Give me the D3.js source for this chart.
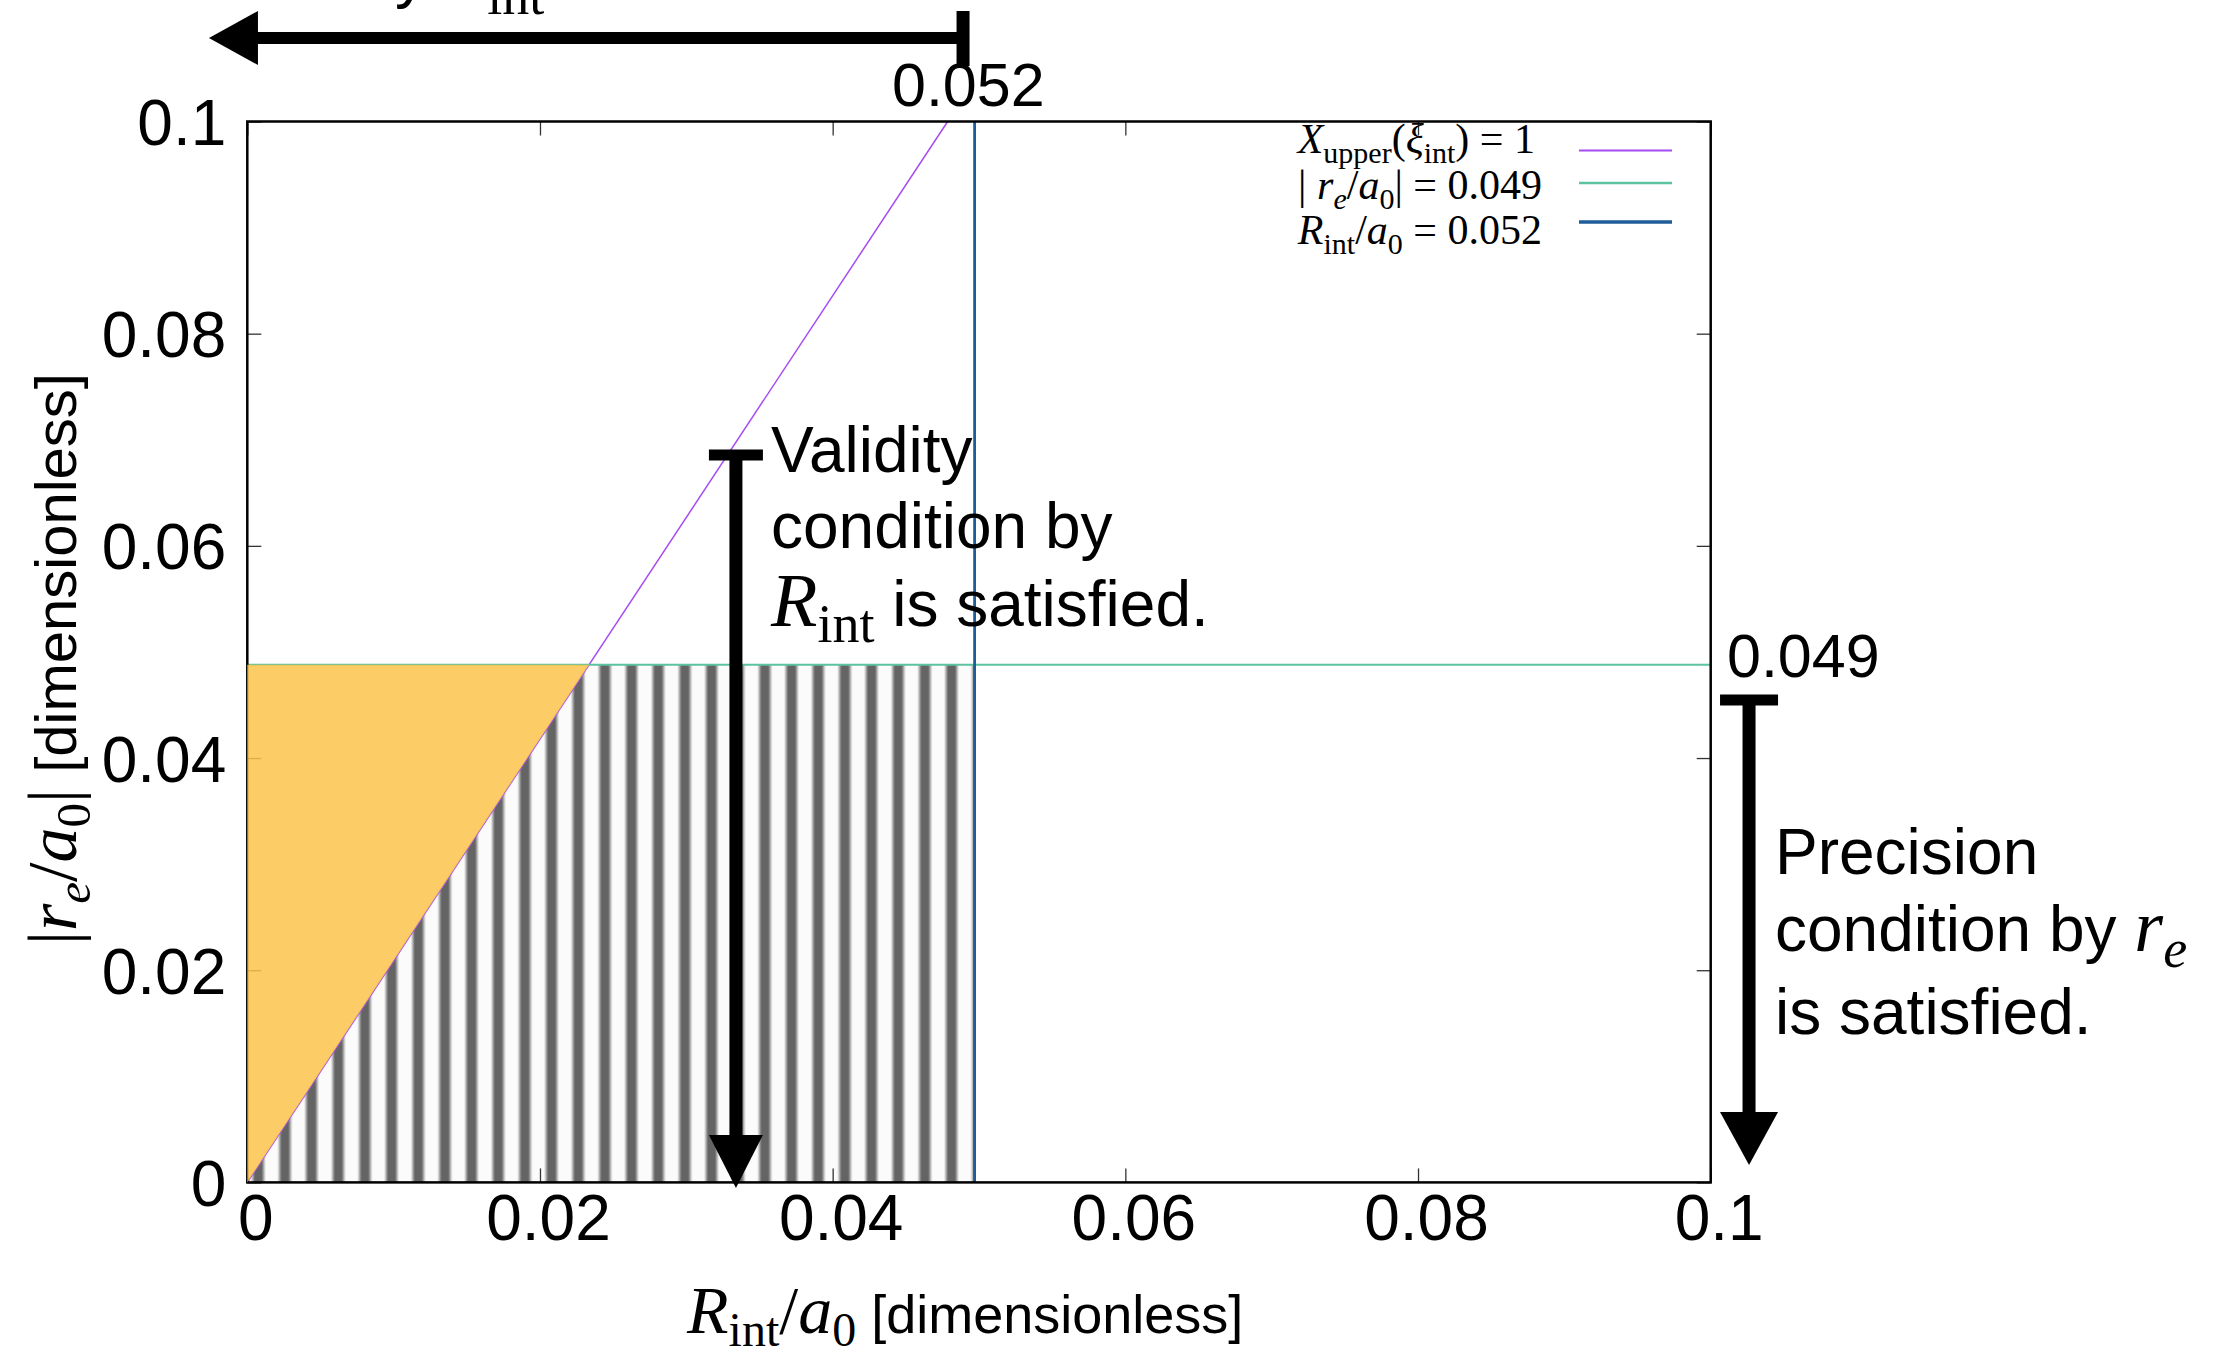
<!DOCTYPE html>
<html>
<head>
<meta charset="utf-8">
<script src="https://cdn.jsdelivr.net/npm/d3@7"></script>
<style>
  html, body { margin: 0; padding: 0; background: #fff; }
  text { white-space: pre; }
</style>
</head>
<body>
<div class="chart"></div>
<script>
var svgWidth = 2215;
var svgHeight = 1351;

var margin = { top: 121.5, right: 504.3, bottom: 168.6, left: 247.3 };
var width = svgWidth - margin.left - margin.right;
var height = svgHeight - margin.top - margin.bottom;

// ---- data ----
var xTicks = [0, 0.02, 0.04, 0.06, 0.08, 0.1];
var xTickLabels = ["0", "0.02", "0.04", "0.06", "0.08", "0.1"];
var yTicks = [0, 0.02, 0.04, 0.06, 0.08, 0.1];
var yTickLabels = ["0", "0.02", "0.04", "0.06", "0.08", "0.1"];

// X_upper(xi_int) = 1 boundary (straight line through the origin)
var upperX = [0, 0.04786];
var upperY = [0, 0.1];
// |r_e/a0| = 0.049 level and R_int/a0 = 0.052 level, as drawn
var reLevel = 0.0488;
var rintLevel = 0.0497;
// hatched fill: vertical stripes
var stripePeriod = 0.001822;
var stripeFirst = 0.00075;

var lineColors = ["#a64bf4", "#5cc3a0", "#1f5c99"];
var lineWidths = [1.5, 2, 2.8];

var sans = "'Liberation Sans', Arial, Helvetica, sans-serif";
var serif = "'Liberation Serif', 'Times New Roman', serif";

var svg = d3.select(".chart")
  .append("svg")
  .attr("width", svgWidth)
  .attr("height", svgHeight)
  .style("display", "block");

svg.append("rect").attr("width", svgWidth).attr("height", svgHeight).attr("fill", "#fff");

var xScale = d3.scaleLinear().domain([0, 0.1]).range([margin.left, margin.left + width]);
var yScale = d3.scaleLinear().domain([0, 0.1]).range([margin.top + height, margin.top]);

// stripe pattern
var periodPx = xScale(stripePeriod) - xScale(0);
var defs = svg.append("defs");
var grad = defs.append("linearGradient").attr("id", "stripeGrad")
  .attr("x1", 0).attr("x2", 1).attr("y1", 0).attr("y2", 0);
[[0, "#fbfbfb"], [0.22, "#fbfbfb"], [0.37, "#646464"], [0.63, "#646464"], [0.78, "#fbfbfb"], [1, "#fbfbfb"]]
  .forEach(function(s) { grad.append("stop").attr("offset", s[0]).attr("stop-color", s[1]); });
defs.append("pattern").attr("id", "stripes")
  .attr("patternUnits", "userSpaceOnUse")
  .attr("x", xScale(stripeFirst) - periodPx / 2).attr("y", 0)
  .attr("width", periodPx).attr("height", 40)
  .append("rect").attr("width", periodPx).attr("height", 40).attr("fill", "url(#stripeGrad)");

var slope = (upperY[1] - upperY[0]) / (upperX[1] - upperX[0]);
var xCross = reLevel / slope;

var area = d3.line().x(d => xScale(d[0])).y(d => yScale(d[1]));

// hatched region: below boundary & below r_e level, up to R_int
svg.append("path")
  .attr("d", area([[0, 0], [xCross, reLevel], [rintLevel, reLevel], [rintLevel, 0]]) + "Z")
  .attr("fill", "url(#stripes)");

// axes (inward ticks on all four sides)
function styleAxis(g) {
  g.select(".domain").remove();
  g.selectAll(".tick line").attr("stroke", "#333").attr("stroke-width", 1.3);
  g.attr("font-family", sans).attr("font-size", 64);
  g.selectAll(".tick text").attr("fill", "#000");
}

svg.append("g")
  .attr("transform", `translate(0, ${yScale(0)})`)
  .call(d3.axisBottom(xScale).tickValues(xTicks).tickSize(-14).tickPadding(12)
    .tickFormat((d, i) => xTickLabels[i]))
  .call(styleAxis)
  .selectAll(".tick text").attr("dx", 8);

svg.append("g")
  .attr("transform", `translate(${xScale(0)}, 0)`)
  .call(d3.axisLeft(yScale).tickValues(yTicks).tickSize(-14).tickPadding(21)
    .tickFormat((d, i) => yTickLabels[i]))
  .call(styleAxis)
  .selectAll(".tick text").attr("dy", "0.36em");

svg.append("g")
  .attr("transform", `translate(0, ${yScale(0.1)})`)
  .call(d3.axisTop(xScale).tickValues(xTicks).tickSize(-14).tickFormat(""))
  .call(styleAxis);

svg.append("g")
  .attr("transform", `translate(${xScale(0.1)}, 0)`)
  .call(d3.axisRight(yScale).tickValues(yTicks).tickSize(-14).tickFormat(""))
  .call(styleAxis);

// curves
var lines = [
  d3.zip(upperX, upperY),
  [[0, reLevel], [0.1, reLevel]],
  [[rintLevel, 0], [rintLevel, 0.1]]
];
lines.forEach(function(pts, i) {
  svg.append("path")
    .attr("d", area(pts))
    .attr("fill", "none")
    .attr("stroke", lineColors[i])
    .attr("stroke-width", lineWidths[i]);
});

// frame
svg.append("rect")
  .attr("x", xScale(0)).attr("y", yScale(0.1))
  .attr("width", width).attr("height", height)
  .attr("fill", "none").attr("stroke", "#000").attr("stroke-width", 2.5);

// orange region: above boundary & below r_e level
svg.append("path")
  .attr("d", area([[0, 0], [0, reLevel], [xCross, reLevel]]) + "Z")
  .attr("fill", "rgb(251,195,75)")
  .attr("fill-opacity", 0.85);

// rich text helper
function rich(sel, parts) {
  parts.forEach(function(p) {
    sel.append("tspan")
      .attr("font-family", p.serif ? serif : sans)
      .attr("font-style", p.it ? "italic" : "normal")
      .attr("font-size", p.size)
      .attr("dy", p.dy || 0)
      .text(p.t);
  });
  return sel;
}

// legend
var L = 42, Ls = 30, Ld = 10;
var legendRows = [
  [{t: "X", serif: 1, it: 1, size: L}, {t: "upper", serif: 1, size: Ls, dy: Ld}, {t: "(", serif: 1, size: L, dy: -Ld},
   {t: "ξ", serif: 1, it: 1, size: L}, {t: "int", serif: 1, size: Ls, dy: Ld}, {t: ") = 1", serif: 1, size: L, dy: -Ld}],
  [{t: "| ", serif: 1, size: L}, {t: "r", serif: 1, it: 1, size: L}, {t: "e", serif: 1, it: 1, size: Ls, dy: Ld},
   {t: "/", serif: 1, size: L, dy: -Ld}, {t: "a", serif: 1, it: 1, size: L}, {t: "0", serif: 1, size: Ls, dy: Ld},
   {t: "| = 0.049", serif: 1, size: L, dy: -Ld}],
  [{t: "R", serif: 1, it: 1, size: L}, {t: "int", serif: 1, size: Ls, dy: Ld}, {t: "/", serif: 1, size: L, dy: -Ld},
   {t: "a", serif: 1, it: 1, size: L}, {t: "0", serif: 1, size: Ls, dy: Ld}, {t: " = 0.052", serif: 1, size: L, dy: -Ld}]
];
var legendBase = [153, 199, 244];
var legendEnd = [1535, 1542, 1542];
var legendLineY = [150.5, 183, 222];
legendRows.forEach(function(parts, i) {
  rich(svg.append("text").attr("x", legendEnd[i]).attr("y", legendBase[i]).attr("text-anchor", "end").attr("fill", "#000"), parts);
  svg.append("line")
    .attr("x1", 1579).attr("x2", 1672)
    .attr("y1", legendLineY[i]).attr("y2", legendLineY[i])
    .attr("stroke", lineColors[i]).attr("stroke-width", lineWidths[i] + 0.5);
});

// axis titles
rich(svg.append("text").attr("x", 687).attr("y", 1333).attr("fill", "#000"), [
  {t: "R", serif: 1, it: 1, size: 68}, {t: "int", serif: 1, size: 48, dy: 13}, {t: "/", serif: 1, size: 68, dy: -13},
  {t: "a", serif: 1, it: 1, size: 68}, {t: "0", serif: 1, size: 48, dy: 13}, {t: " [dimensionless]", size: 54, dy: -13}
]);

rich(svg.append("text").attr("transform", "translate(76, 659) rotate(-90)").attr("text-anchor", "middle").attr("fill", "#000"), [
  {t: "|", serif: 1, size: 70}, {t: "r", serif: 1, it: 1, size: 70}, {t: "e", serif: 1, it: 1, size: 49, dy: 14},
  {t: "/", serif: 1, size: 70, dy: -14}, {t: "a", serif: 1, it: 1, size: 70}, {t: "0", serif: 1, size: 49, dy: 14},
  {t: "|", serif: 1, size: 70, dy: -14}, {t: " [dimensionless]", size: 58}
]);

// arrows
var black = "#000";
function vArrow(xv, yTop, yTip, half) {
  var x = xScale(xv), y0 = yScale(yTop), y1 = yScale(yTip);
  svg.append("line").attr("x1", x - half).attr("x2", x + half).attr("y1", y0).attr("y2", y0)
    .attr("stroke", black).attr("stroke-width", 11);
  svg.append("line").attr("x1", x).attr("x2", x).attr("y1", y0).attr("y2", y1 - 50)
    .attr("stroke", black).attr("stroke-width", 13);
  svg.append("path").attr("d", `M${x - half},${y1 - 53}L${x + half},${y1 - 53}L${x},${y1}Z`).attr("fill", black);
}
vArrow(0.03339, 0.06857, -0.00053, 27);
vArrow(0.10262, 0.04548, 0.00164, 29);

// top arrow (pointing left)
var ty = yScale(0.10787);
var tx0 = xScale(0.04891), tx1 = xScale(-0.00262);
svg.append("line").attr("x1", tx0).attr("x2", tx0).attr("y1", 11).attr("y2", 66)
  .attr("stroke", black).attr("stroke-width", 13);
svg.append("line").attr("x1", tx0).attr("x2", tx1 + 46).attr("y1", ty).attr("y2", ty)
  .attr("stroke", black).attr("stroke-width", 12);
svg.append("path").attr("d", `M${tx1 + 49},${ty - 27}L${tx1 + 49},${ty + 27}L${tx1},${ty}Z`).attr("fill", black);

// partly hidden text above the top arrow (only the descender and subscript show)
svg.append("text").attr("x", 427).attr("y", -4).attr("text-anchor", "end")
  .attr("font-family", sans).attr("font-size", 64).text("condition by");
rich(svg.append("text").attr("x", 442).attr("y", -4), [
  {t: "R", serif: 1, it: 1, size: 74}, {t: "int", serif: 1, size: 54, dy: 18}
]);

// value labels
svg.append("text").attr("x", 892).attr("y", 106).attr("font-family", sans).attr("font-size", 61).text("0.052");
svg.append("text").attr("x", 1727).attr("y", 677).attr("font-family", sans).attr("font-size", 61).text("0.049");

// annotations
var A = 64;
function lineText(x, y, parts) {
  rich(svg.append("text").attr("x", x).attr("y", y).attr("fill", "#000"), parts);
}
lineText(771, 472, [{t: "Validity", size: A}]);
lineText(771, 548, [{t: "condition by", size: A}]);
lineText(771, 626, [{t: "R", serif: 1, it: 1, size: 76}, {t: "int", serif: 1, size: 54, dy: 16},
  {t: " is satisfied.", size: A, dy: -16}]);

lineText(1775, 874, [{t: "Precision", size: A}]);
lineText(1775, 951, [{t: "condition by ", size: A}, {t: "r", serif: 1, it: 1, size: 74},
  {t: "e", serif: 1, it: 1, size: 54, dy: 16}]);
lineText(1775, 1034, [{t: "is satisfied.", size: A}]);
</script>
</body>
</html>
